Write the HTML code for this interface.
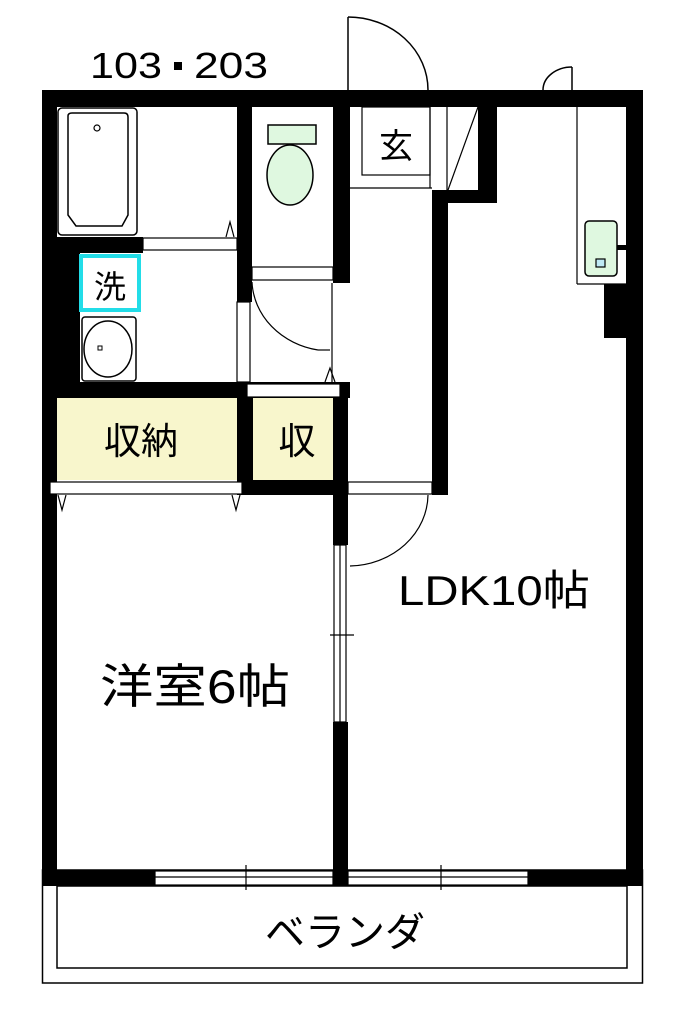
<!DOCTYPE html>
<html><head><meta charset="utf-8"><style>
html,body{margin:0;padding:0;background:#fff;}
svg{display:block;}
text{font-family:"Liberation Sans","Noto Sans CJK JP",sans-serif;fill:#000;}
</style></head><body>
<svg width="683" height="1024" viewBox="0 0 683 1024" xmlns="http://www.w3.org/2000/svg">
<rect width="683" height="1024" fill="#fff"/>
<text x="90" y="78" font-size="36" textLength="72" lengthAdjust="spacingAndGlyphs">103</text>
<rect x="174" y="62" width="8" height="8" fill="#000"/>
<text x="194" y="78" font-size="36" textLength="74" lengthAdjust="spacingAndGlyphs">203</text>

<g fill="none" stroke="#000" stroke-width="1.5">
<line x1="348" y1="17" x2="348" y2="90"/>
<path d="M348 17 A80 73 0 0 1 428 90"/>
<line x1="572" y1="67" x2="572" y2="90"/>
<path d="M572 67 A29 23 0 0 0 543 90"/>
</g>

<rect x="42.5" y="870" width="600" height="113" fill="none" stroke="#000" stroke-width="1.5"/>
<rect x="57" y="886" width="570" height="82" fill="#fff" stroke="#000" stroke-width="1.5"/>

<rect x="57" y="398" width="180" height="82" fill="#f8f6cc"/>
<rect x="253" y="398" width="80" height="82" fill="#f8f6cc"/>

<g fill="#000">
<rect x="42" y="90" width="601" height="17"/>
<rect x="42" y="90" width="15" height="796"/>
<rect x="626" y="90" width="17" height="796"/>
<rect x="57" y="870" width="98" height="16"/>
<rect x="528" y="870" width="98" height="16"/>
<rect x="333" y="860" width="15" height="26"/>
<rect x="57" y="237" width="86" height="16"/>
<rect x="57" y="253" width="23" height="130"/>
<rect x="237" y="107" width="15" height="195"/>
<rect x="333" y="107" width="17" height="176"/>
<rect x="57" y="382" width="293" height="16"/>
<rect x="237" y="398" width="16" height="97"/>
<rect x="333" y="398" width="15" height="97"/>
<rect x="242" y="480" width="106" height="15"/>
<rect x="333" y="480" width="15" height="65"/>
<rect x="333" y="722" width="15" height="150"/>
<rect x="478" y="107" width="19" height="96"/>
<rect x="432" y="190" width="65" height="13"/>
<rect x="432" y="190" width="16" height="305"/>
<rect x="604" y="284" width="22" height="54"/>
<rect x="601" y="245" width="25" height="5"/>
</g>

<g fill="#fff" stroke="#000" stroke-width="1.2">
<rect x="143" y="238" width="94" height="12"/>
<rect x="252" y="267" width="81" height="13"/>
<rect x="247" y="384" width="93" height="13"/>
<rect x="50" y="482" width="192" height="12"/>
<rect x="348" y="482" width="84" height="12"/>
<rect x="237" y="302" width="13" height="80"/>
<rect x="155" y="871" width="178" height="14"/>
<rect x="348" y="871" width="180" height="14"/>
<rect x="334" y="545" width="12" height="177"/>
</g>
<g stroke="#000" stroke-width="1.2" fill="none">
<line x1="155" y1="877" x2="333" y2="877"/>
<line x1="348" y1="877" x2="528" y2="877"/>
<line x1="246" y1="865" x2="246" y2="890"/>
<line x1="441" y1="865" x2="441" y2="890"/>
<line x1="340" y1="545" x2="340" y2="722"/>
<line x1="330" y1="635" x2="354" y2="635"/>
<path d="M252 282 A80 72 0 0 0 318 350"/>
<path d="M428 495 A80 72 0 0 1 350 566"/>
<line x1="332" y1="283" x2="332" y2="382"/>
<line x1="318" y1="350" x2="330" y2="350"/>
<path d="M226 237 L230 222 L234 237"/>
<path d="M325 382 L330 368 L335 382"/>
<path d="M58 495 L62 510 L66 495"/>
<path d="M232 495 L236 510 L240 495"/>
<rect x="362" y="107" width="68" height="68" fill="#fff"/>
<line x1="350" y1="188" x2="432" y2="188"/>
<line x1="447" y1="107" x2="447" y2="190"/>
<line x1="430" y1="107" x2="430" y2="188"/>
<line x1="478" y1="107" x2="448" y2="190"/>
<line x1="577" y1="107" x2="577" y2="284"/>
<line x1="577" y1="284" x2="626" y2="284"/>
</g>

<rect x="58" y="108" width="79" height="127" rx="4" fill="#fff" stroke="#000" stroke-width="1.5"/>
<path d="M68 116 Q68 113 72 113 L124 113 Q128 113 128 117 L128 215 L122 226 L76 226 L68 215 Z" fill="#fff" stroke="#000" stroke-width="1.5"/>
<circle cx="97" cy="128" r="3" fill="#fff" stroke="#000" stroke-width="1.2"/>

<rect x="82" y="317" width="54" height="64" rx="3" fill="#fff" stroke="#000" stroke-width="1.5"/>
<ellipse cx="108" cy="349" rx="24" ry="28" fill="#fff" stroke="#000" stroke-width="1.5"/>
<rect x="98" y="346" width="4" height="4" fill="#fff" stroke="#000"/>
<rect x="81" y="256" width="58" height="54" fill="#fff" stroke="#22dde8" stroke-width="4"/>
<text x="110" y="298" font-size="32" text-anchor="middle">洗</text>

<rect x="268" y="125" width="48" height="19" fill="#dff8e0" stroke="#000" stroke-width="1.5"/>
<ellipse cx="290" cy="175" rx="23" ry="30" fill="#dff8e0" stroke="#000" stroke-width="1.5"/>

<rect x="585" y="221" width="32" height="55" rx="4" fill="#dff8e0" stroke="#000" stroke-width="1.5"/>
<rect x="596" y="259" width="9" height="8" fill="#bfeaf5" stroke="#000" stroke-width="1.2"/>

<text x="396" y="158" font-size="34" text-anchor="middle">玄</text>
<text x="141" y="454" font-size="37" text-anchor="middle">収納</text>
<text x="297" y="454" font-size="37" text-anchor="middle">収</text>
<text x="398" y="605" font-size="42" textLength="192" lengthAdjust="spacingAndGlyphs">LDK10帖</text>
<text x="100" y="703" font-size="47" textLength="190" lengthAdjust="spacingAndGlyphs">洋室6帖</text>
<text x="345" y="946" font-size="40" text-anchor="middle">ベランダ</text>
</svg>
</body></html>
